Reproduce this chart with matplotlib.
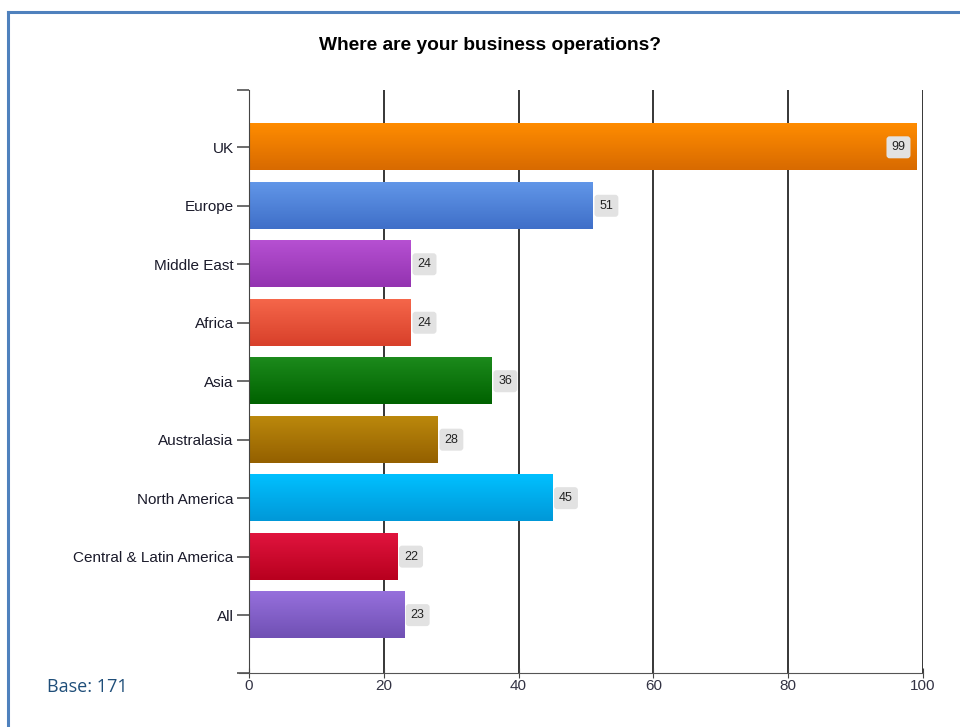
import numpy as np
import matplotlib.pyplot as plt
from matplotlib.lines import Line2D
from matplotlib.colors import LinearSegmentedColormap

regions = ["UK", "Europe", "Middle East", "Africa", "Asia", "Australasia",
           "North America", "Central & Latin America", "All"]
counts = [99, 51, 24, 24, 36, 28, 45, 22, 23]
# gradient colours per bar: (top, bottom)
bar_colors = [("#ff8c00", "#d86a00"), ("#6196e8", "#3f6fc8"), ("#b650d2", "#9333b0"),
              ("#f5664a", "#d8402a"), ("#1c8a1c", "#006200"), ("#bb880c", "#946000"),
              ("#00c0ff", "#0098d8"), ("#e0143e", "#b8001e"), ("#9670dc", "#7050b4")]
x_ticks = [0, 20, 40, 60, 80, 100]

plt.rcParams['font.family'] = ['Liberation Sans', 'DejaVu Sans']

fig = plt.figure(figsize=(9.6, 7.27), dpi=100)
ax = fig.add_axes([249/960, 1-673/727, (923-249)/960, (673-90)/727])

pos = np.arange(len(regions))[::-1]
h = 0.79
bars = ax.barh(pos, counts, height=h, color="none", edgecolor="none", zorder=3)

for b, (top, bot) in zip(bars, bar_colors):
    cmap = LinearSegmentedColormap.from_list("g", [bot, top])
    grad = np.linspace(0, 1, 64).reshape(-1, 1)
    x0, y0 = b.get_x(), b.get_y()
    ax.imshow(grad, cmap=cmap, aspect="auto", origin="lower", interpolation="nearest",
              extent=(x0, x0 + b.get_width(), y0, y0 + b.get_height()), zorder=2)

# value labels in small grey boxes
for p, v in zip(pos, counts):
    if v > 90:
        xt, ha = v - 1.6, "right"
    else:
        xt, ha = v + 1.0, "left"
    ax.text(xt, p, str(v), ha=ha, va="center", fontsize=9, color="#222222", zorder=5,
            bbox=dict(boxstyle="round,pad=0.4,rounding_size=0.25", fc="#e2e2e2", ec="none"))

ax.set_xlim(0, 100)
ax.set_ylim(-0.99, 8.98)
ax.set_xticks(x_ticks)
ax.set_yticks(pos)
ax.set_yticklabels(regions, fontsize=11, color="#1a1a2a")
ax.set_xticklabels([str(t) for t in x_ticks], fontsize=11, color="#333344")
ax.set_yticks([-0.99, 8.98], minor=True)

ax.grid(axis="x", color="black", linewidth=1.1, zorder=1)
ax.set_axisbelow(True)
for s in ["top", "right"]:
    ax.spines[s].set_visible(False)
ax.spines["left"].set_color("#444444")
ax.spines["bottom"].set_color("#555555")
ax.spines["bottom"].set_bounds(-1.5, 100)
ax.spines["bottom"].set_clip_on(False)
ax.tick_params(axis="y", which="both", length=9, color="#444444", width=1.1, pad=2)
ax.tick_params(axis="x", length=7, direction="inout", color="#444444", pad=1)

fig.text(490/960, 1-45/727, "Where are your business operations?", ha="center", va="center",
         fontsize=13.8, fontweight="bold", color="black")
fig.text(47/960, 1-687/727, "Base: 171", ha="left", va="center", fontsize=13,
         color="#1f4e79", family=["Open Sans", "DejaVu Sans"])

# border of the panel
fig.add_artist(Line2D([7.5/960, 7.5/960], [0, 1-12/727], color="#4f81bd", linewidth=2.2))
fig.add_artist(Line2D([7.5/960, 1], [1-12/727, 1-12/727], color="#4f81bd", linewidth=2.2))

fig.savefig("out.png", dpi=100)
